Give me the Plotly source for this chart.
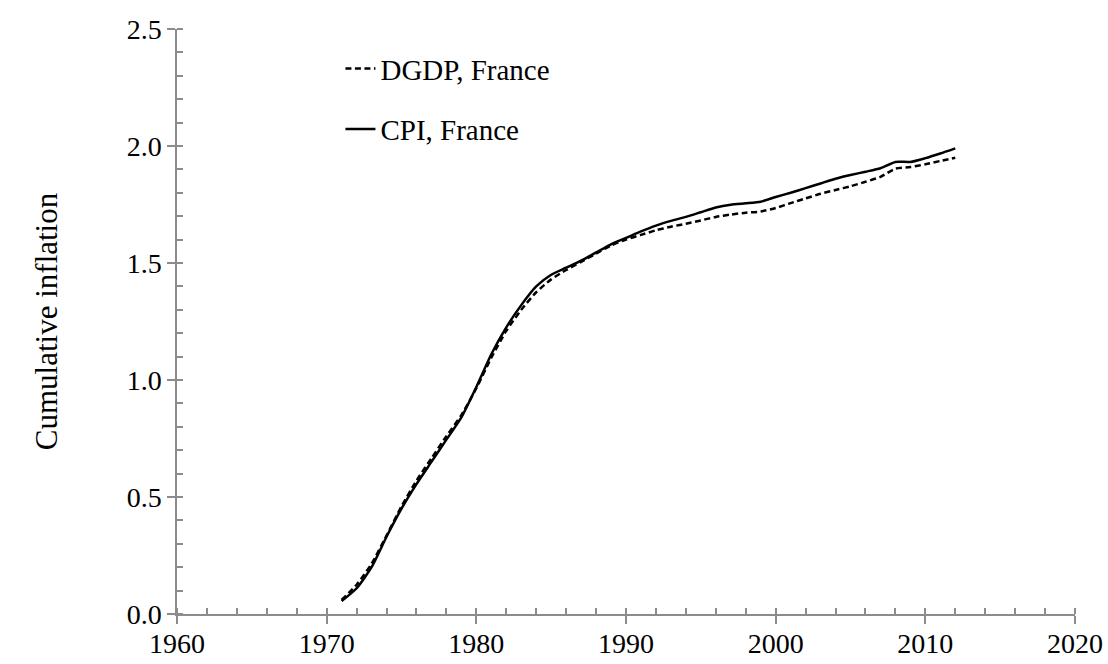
import plotly.graph_objects as go

years = list(range(1971, 2013))
cpi_france = [0.055, 0.11, 0.20, 0.33, 0.45, 0.555, 0.65, 0.745, 0.84, 0.97,
              1.11, 1.225, 1.32, 1.40, 1.45, 1.48, 1.51, 1.545, 1.58, 1.607,
              1.635, 1.66, 1.68, 1.697, 1.717, 1.737, 1.749, 1.755, 1.762, 1.782,
              1.80, 1.82, 1.84, 1.86, 1.876, 1.89, 1.905, 1.932, 1.932, 1.948,
              1.968, 1.99]
dgdp_france = [0.06, 0.125, 0.215, 0.335, 0.46, 0.57, 0.665, 0.76, 0.85, 0.965,
               1.095, 1.21, 1.30, 1.375, 1.43, 1.47, 1.505, 1.54, 1.575, 1.60,
               1.62, 1.64, 1.655, 1.668, 1.682, 1.697, 1.707, 1.715, 1.72, 1.735,
               1.756, 1.776, 1.796, 1.812, 1.828, 1.847, 1.868, 1.903, 1.91, 1.922,
               1.936, 1.95]

FONT = "Liberation Serif"
AX = "#8c8c8c"

fig = go.Figure()
fig.add_trace(go.Scatter(x=years, y=dgdp_france, name="DGDP, France", mode="lines",
                         line=dict(color="black", width=2.5, dash="6px,3.5px",
                                   shape="spline", smoothing=0.6),
                         legendgroup="a"))
fig.add_trace(go.Scatter(x=years, y=cpi_france, name="CPI, France", mode="lines",
                         line=dict(color="black", width=2.5, shape="spline", smoothing=0.6),
                         legendgroup="b"))
# helper trace for inside major ticks
fig.add_trace(go.Scatter(x=[1960], y=[0], xaxis="x2", yaxis="y2", mode="markers",
                         marker=dict(opacity=0), showlegend=False, hoverinfo="skip"))

fig.update_layout(
    width=1108, height=664,
    paper_bgcolor="white", plot_bgcolor="white",
    margin=dict(l=177, r=33, t=29, b=50, autoexpand=False),
    font=dict(family=FONT, size=28, color="black"),
    showlegend=True,
    legend=dict(x=0.182, y=0.976, xanchor="left", yanchor="top",
                bgcolor="rgba(0,0,0,0)", tracegroupgap=20,
                font=dict(family=FONT, size=29)),
    xaxis=dict(range=[1960, 2020], dtick=10, tick0=1960, showgrid=False, zeroline=False,
               showline=True, linecolor=AX, linewidth=1.5, automargin=False,
               ticks="outside", ticklen=8, tickwidth=1.5, tickcolor=AX,
               ticklabelstandoff=-4,
               minor=dict(dtick=2, ticks="inside", ticklen=6, tickwidth=1.5, tickcolor=AX, showgrid=False),
               tickfont=dict(family=FONT, size=28)),
    yaxis=dict(range=[0, 2.5], dtick=0.5, tick0=0, tickformat=".1f", showgrid=False, zeroline=False,
               showline=True, linecolor=AX, linewidth=1.5, automargin=False,
               ticks="outside", ticklen=8, tickwidth=1.5, tickcolor=AX,
               minor=dict(dtick=0.1, ticks="inside", ticklen=6, tickwidth=1.5, tickcolor=AX, showgrid=False),
               tickfont=dict(family=FONT, size=28),
               title=dict(text="Cumulative inflation", font=dict(family=FONT, size=31), standoff=60)),
    xaxis2=dict(range=[1960, 2020], dtick=10, tick0=1960, overlaying="x", anchor="y2",
                showgrid=False, zeroline=False, showline=False, showticklabels=False,
                automargin=False, ticks="inside", ticklen=5, tickwidth=1.5, tickcolor=AX),
    yaxis2=dict(range=[0, 2.5], dtick=0.5, tick0=0, overlaying="y", anchor="x2",
                showgrid=False, zeroline=False, showline=False, showticklabels=False,
                automargin=False, ticks="inside", ticklen=5, tickwidth=1.5, tickcolor=AX),
)

fig.write_html("out.html", config={"displayModeBar": False},
               post_script="document.body.style.margin='0';document.body.style.overflow='hidden';")
